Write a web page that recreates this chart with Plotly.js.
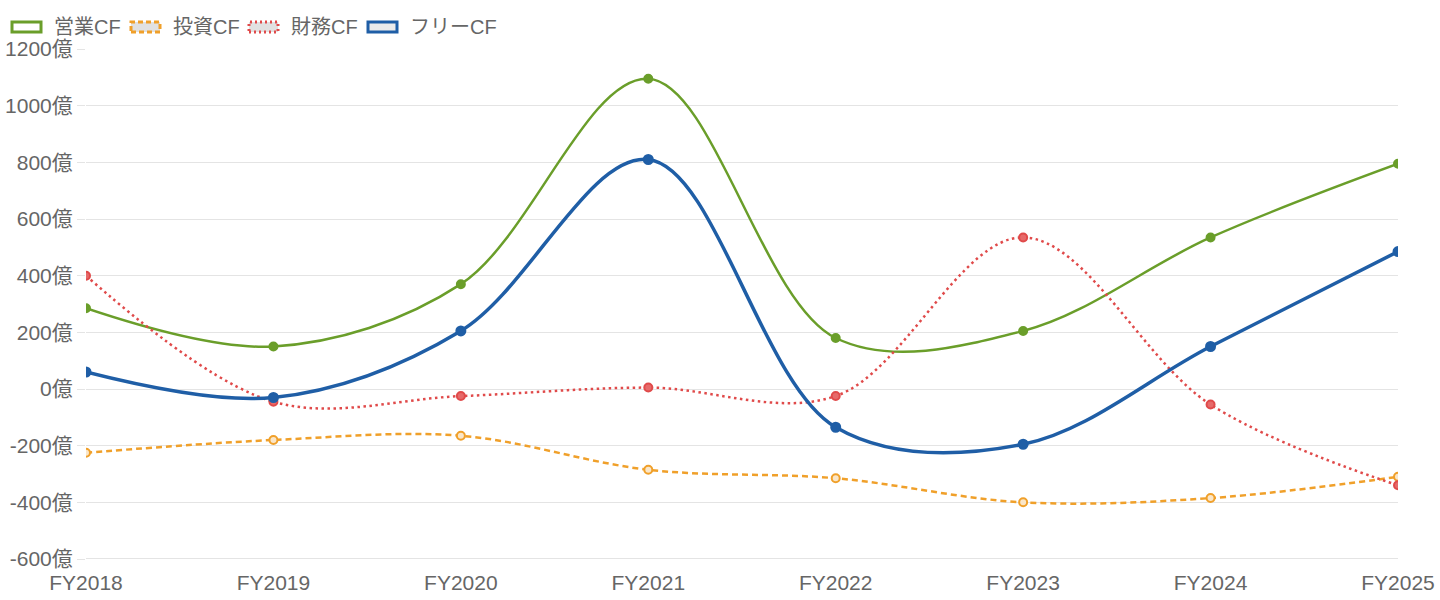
<!DOCTYPE html>
<html>
<head>
<meta charset="utf-8">
<script src="https://cdn.plot.ly/plotly-3.0.1.min.js"></script>
<style>
  html, body { margin: 0; padding: 0; background: #fff; }
  #chart { width: 1440px; height: 600px; }
</style>
</head>
<body>
<div id="chart"></div>
<script>
// Fiscal years
const years = ['FY2018', 'FY2019', 'FY2020', 'FY2021', 'FY2022', 'FY2023', 'FY2024', 'FY2025'];

// Cash flows (億円)
const operatingCF = [285, 150, 370, 1095, 180, 205, 535, 795];
const investingCF = [-225, -180, -165, -285, -315, -400, -385, -310];
const financingCF = [400, -45, -25, 5, -25, 535, -55, -340];
const freeCF      = [60, -30, 205, 810, -135, -195, 150, 485];

const seriesNames = ['営業CF', '投資CF', '財務CF', 'フリーCF'];
const yTicks = [-600, -400, -200, 0, 200, 400, 600, 800, 1000, 1200];

const FONT = 'Liberation Sans, Noto Sans CJK JP, sans-serif';
const TEXT = '#666666';
const FS = 21;

const styles = [
  { color: '#6a9e2a', width: 2.5, dash: 'solid', msize: 8, mfill: '#6a9e2a', lfill: 'rgba(255,255,255,1)' },
  { color: '#f0a02a', width: 2.5, dash: '6px,4px', msize: 8, mfill: 'rgba(250,230,200,1)', lfill: 'rgba(225,225,225,1)' },
  { color: '#e04a4a', width: 2.5, dash: '2.5px,3.5px', msize: 8, mfill: '#e66a6a', lfill: 'rgba(225,225,225,1)' },
  { color: '#1f5ea6', width: 3.5, dash: 'solid', msize: 9, mfill: '#1f5ea6', lfill: 'rgba(235,235,235,1)' }
];
const values = [operatingCF, investingCF, financingCF, freeCF];

const traces = values.map((v, i) => ({
  type: 'scatter',
  mode: 'lines+markers',
  name: seriesNames[i],
  x: years,
  y: v,
  line: { color: styles[i].color, width: styles[i].width, dash: styles[i].dash, shape: 'spline', smoothing: 1 },
  marker: { size: styles[i].msize, color: styles[i].mfill, line: { color: styles[i].color, width: 2 } },
  hoverinfo: 'x+y+name',
  showlegend: false
}));

// Plot area geometry in pixels, used to place the custom legend
const M = { l: 86, r: 42, t: 49, b: 41 };
const W = 1440, H = 600;
const plotW = W - M.l - M.r, plotH = H - M.t - M.b;
const px = x => (x - M.l) / plotW;
const py = y => (H - M.b - y) / plotH;

const legendX = [12, 131, 249, 368];
const boxW = 29, boxH = 10, legendY = 27;
const shapes = [];
const annotations = [];
legendX.forEach((x0, i) => {
  shapes.push({
    type: 'rect', xref: 'paper', yref: 'paper',
    x0: px(x0), x1: px(x0 + boxW), y0: py(legendY + boxH / 2), y1: py(legendY - boxH / 2),
    line: { color: styles[i].color, width: 3, dash: i === 1 ? '5px,3px' : (i === 2 ? '2px,3px' : 'solid') },
    fillcolor: styles[i].lfill
  });
  annotations.push({
    xref: 'paper', yref: 'paper', x: px(x0 + boxW + 11), y: py(legendY),
    xanchor: 'left', yanchor: 'middle', showarrow: false,
    text: seriesNames[i], font: { family: FONT, size: 20, color: TEXT }
  });
});

const layout = {
  width: W, height: H,
  margin: M,
  paper_bgcolor: '#ffffff', plot_bgcolor: '#ffffff',
  showlegend: false,
  font: { family: FONT, size: FS, color: TEXT },
  xaxis: {
    type: 'category', range: [0, years.length - 1],
    showgrid: false, zeroline: false,
    showline: false, ticks: '', ticklabelstandoff: 9,
    tickfont: { family: FONT, size: FS, color: TEXT }
  },
  yaxis: {
    range: [-600, 1200], tickvals: yTicks, ticktext: yTicks.map(t => t + '億'),
    showgrid: true, gridcolor: '#e4e4e4', gridwidth: 1,
    zeroline: false, showline: false,
    ticks: 'outside', ticklen: 8, tickcolor: '#e4e4e4',
    tickfont: { family: FONT, size: FS, color: TEXT }
  },
  shapes: shapes.concat([{
    type: 'line', xref: 'paper', yref: 'y', x0: 0, x1: 1, y0: -600, y1: -600,
    line: { color: '#c8c8c8', width: 1 }, layer: 'below'
  }]),
  annotations: annotations
};

Plotly.newPlot('chart', traces, layout, { displayModeBar: false, staticPlot: true });
</script>
</body>
</html>
